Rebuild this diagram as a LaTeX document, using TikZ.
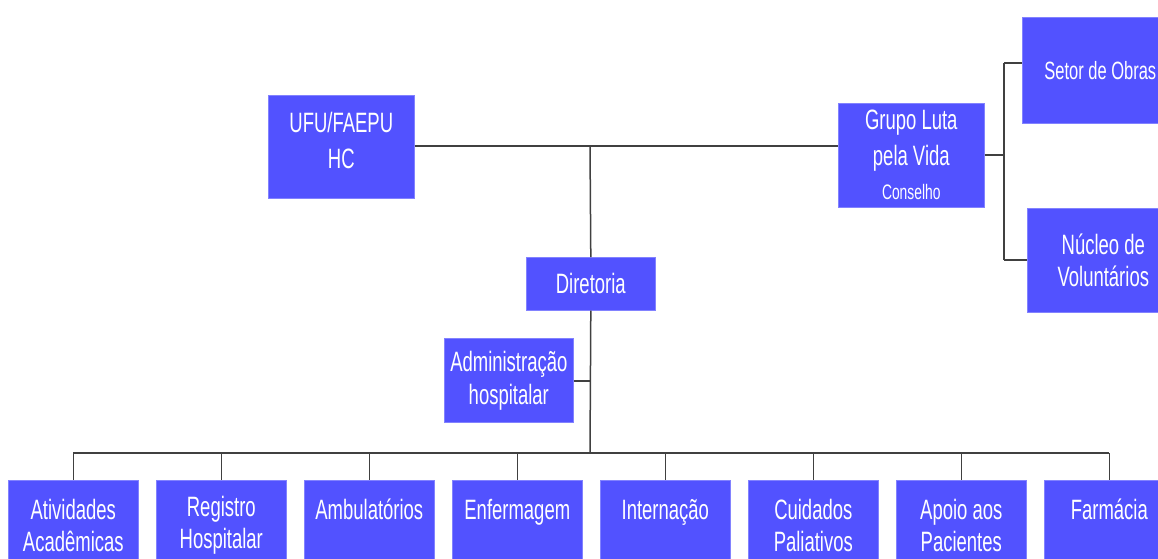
\documentclass[tikz,border=0pt]{standalone}
\usepackage{fontspec}
\setmainfont{Liberation Sans}[FakeStretch=0.66]
\definecolor{boxfill}{RGB}{82,82,255}
\definecolor{boxedge}{RGB}{130,130,255}
\definecolor{linec}{RGB}{64,64,64}
\begin{document}
\begin{tikzpicture}[x=1pt,y=-1pt,
  box/.style={rectangle,anchor=north west,fill=boxfill,draw=boxedge,line width=0.6pt,
    inner sep=0pt,text=white,align=center,font=\fontsize{28}{36}\selectfont},
  lowbox/.style={box,minimum width=130pt,minimum height=90pt,font=\fontsize{28}{32}\selectfont},
  conn/.style={draw=linec,line width=1.5pt}]
\useasboundingbox (0,0) rectangle (1158,558);
\clip (0,0) rectangle (1158,558);
\fill[white] (0,0) rectangle (1158,558);

\node[box,minimum width=146pt,minimum height=103pt] (ufu) at (268,95) {UFU/FAEPU\\HC\\[-24pt]};
\node[box,minimum width=146pt,minimum height=104pt] (grupo) at (838,103) {Grupo Luta\\pela Vida\\[-2pt]{\fontsize{21}{26}\selectfont Conselho}};
\node[box,minimum width=156pt,minimum height=106pt,font=\fontsize{25}{32}\selectfont] (setor) at (1022,17) {Setor de Obras};
\node[box,minimum width=152pt,minimum height=104pt] (nucleo) at (1027,208) {Núcleo de\\[-4pt]Voluntários};
\node[box,minimum width=129pt,minimum height=53pt] (dir) at (526,257) {Diretoria};
\node[box,minimum width=129pt,minimum height=84pt] (adm) at (444,338) {Administração\\[-3pt]hospitalar};

\node[lowbox] (b1) at (8,480) {Atividades\\Acadêmicas};
\node[lowbox] (b2) at (156,480) {Registro\\Hospitalar};
\node[lowbox] (b3) at (304,480) {Ambulatórios\\~};
\node[lowbox] (b4) at (452,480) {Enfermagem\\~};
\node[lowbox] (b5) at (600,480) {Internação\\~};
\node[lowbox] (b6) at (748,480) {Cuidados\\Paliativos};
\node[lowbox] (b7) at (896,480) {Apoio aos\\Pacientes};
\node[lowbox] (b8) at (1044,480) {Farmácia\\~};
\fill[boxfill] (8,560) rectangle (1174,570);

\coordinate (top) at (590,146);
\coordinate (bus) at (590,453);
\coordinate (admj) at (590,381);
\coordinate (gj) at (1004,155);
\coordinate (gtop) at (1004,63);
\coordinate (gbot) at (1004,260);

\path[conn] (ufu.east |- top) -- (top) -- (top -| grupo.west);
\path[conn] (top) -- (dir.north);
\path[conn] (dir.south) -- (bus);
\path[conn] (adm.east |- admj) -- (admj);
\path[conn] (b1.north |- bus) -- (b8.north |- bus);
\foreach \b in {b1,b2,b3,b4,b5,b6,b7,b8}{
  \path[conn] (\b.north |- bus) -- (\b.north);
}
\path[conn] (grupo.east |- gj) -- (gj);
\path[conn] (gtop) -- (gbot);
\path[conn] (gtop) -- (gtop -| setor.west);
\path[conn] (gbot) -- (gbot -| nucleo.west);
\end{tikzpicture}
\end{document}
